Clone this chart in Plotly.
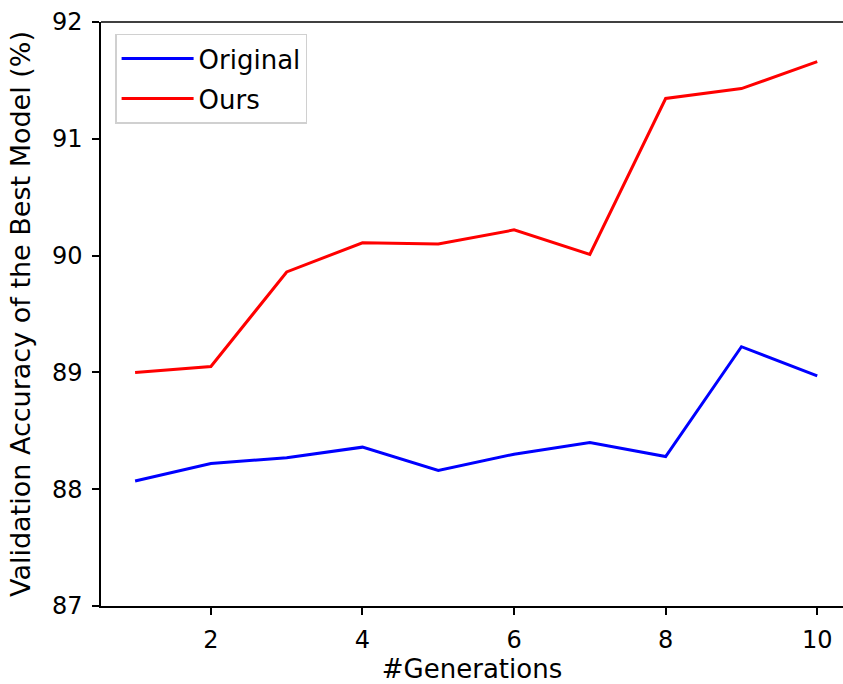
import plotly.graph_objects as go

generations = [1, 2, 3, 4, 5, 6, 7, 8, 9, 10]
original = [88.07, 88.22, 88.27, 88.36, 88.16, 88.30, 88.40, 88.28, 89.22, 88.97]
ours = [89.00, 89.05, 89.86, 90.11, 90.10, 90.22, 90.01, 91.345, 91.43, 91.66]

x_ticks = [2, 4, 6, 8, 10]
y_ticks = [87, 88, 89, 90, 91, 92]

font = "DejaVu Sans"

fig = go.Figure()
fig.add_trace(go.Scatter(x=generations, y=original, mode="lines", name="Original",
                         line=dict(color="#0000ff", width=3), legendgroup="a"))
fig.add_trace(go.Scatter(x=generations, y=ours, mode="lines", name="Ours",
                         line=dict(color="#ff0000", width=3), legendgroup="b"))

fig.update_layout(
    width=843, height=684,
    margin=dict(l=101, r=0, t=22, b=78),
    paper_bgcolor="white", plot_bgcolor="white",
    font=dict(family=font, size=24, color="black"),
    showlegend=True,
    legend=dict(x=0.019, y=0.98, xanchor="left", yanchor="top",
                bordercolor="#d0d0d0", borderwidth=1.5, bgcolor="white",
                font=dict(family=font, size=26), tracegroupgap=3,
                traceorder="grouped", itemwidth=72),
    xaxis=dict(range=[0.55, 10.34], tickvals=x_ticks, showgrid=False, zeroline=False,
               showline=True, linecolor="black", linewidth=1.5,
               ticks="outside", ticklen=7, tickwidth=1.5, tickcolor="black",
               ticklabelstandoff=4,
               tickfont=dict(family=font, size=24),
               title=dict(text="#Generations", font=dict(family=font, size=26), standoff=6)),
    yaxis=dict(range=[87, 92], tickvals=y_ticks, showgrid=False, zeroline=False,
               showline=True, linecolor="black", linewidth=1.5,
               ticks="outside", ticklen=7, tickwidth=1.5, tickcolor="black",
               ticklabelstandoff=5,
               tickfont=dict(family=font, size=24),
               title=dict(text="Validation Accuracy of the Best Model (%)",
                          font=dict(family=font, size=27), standoff=13)),
    shapes=[dict(type="line", xref="paper", yref="paper", x0=0, x1=1, y0=1, y1=1,
                 line=dict(color="black", width=1.5))],
)

fig.write_html("out.html")
